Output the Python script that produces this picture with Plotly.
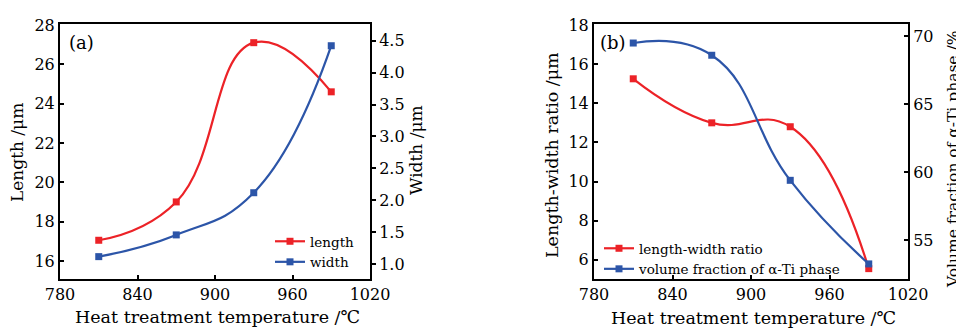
import plotly.graph_objects as go

temps = [810, 870, 930, 990]
length_um = [17.05, 19.0, 27.1, 24.6]
width_um = [1.12, 1.46, 2.12, 4.42]
ratio = [15.25, 13.0, 12.8, 5.55]
alpha_frac = [69.5, 68.6, 59.4, 53.25]

x_ticks = [780, 840, 900, 960, 1020]
RED = "#ec2227"
BLUE = "#2c55a8"
FONT = "DejaVu Serif"

fig = go.Figure()

def add(x, y, name, color, xa, ya, legend):
    fig.add_trace(go.Scatter(
        x=x, y=y, name=name, xaxis=xa, yaxis=ya, legend=legend,
        mode="lines+markers",
        line=dict(color=color, width=2.2, shape="spline", smoothing=1.3),
        marker=dict(symbol="square", size=7, color=color),
    ))

add(temps, length_um, "length", RED, "x", "y", "legend")
add(temps, width_um, "width", BLUE, "x", "y2", "legend")
add(temps, ratio, "length-width ratio", RED, "x2", "y3", "legend2")
add(temps, alpha_frac, "volume fraction of α-Ti phase", BLUE, "x2", "y4", "legend2")

OFF = 8  # page body margin
W, H = 964 - OFF, 329 - OFF
def px(v):
    return (v - OFF) / W
def py(v):
    return 1 - (v - OFF) / H

ydom = [py(279), py(24)]
axis_common = dict(showline=True, linecolor="black", linewidth=2, showgrid=False,
                   zeroline=False, automargin=False,
                   tickfont=dict(family=FONT, size=16, color="black"),
                   ticklen=4, tickwidth=1.5, tickcolor="black")

fig.update_layout(
    template="none",
    width=W, height=H,
    margin=dict(l=0, r=0, t=0, b=0, pad=0),
    paper_bgcolor="white", plot_bgcolor="white",
    font=dict(family=FONT, color="black"),
    xaxis=dict(domain=[px(60), px(370)], range=[780, 1020], tickvals=x_ticks,
               ticks="inside", mirror=True, anchor="y", **axis_common),
    yaxis=dict(domain=ydom, range=[15.08, 28.05], tickvals=[16, 18, 20, 22, 24, 26, 28],
               ticks="inside", anchor="x", **axis_common),
    yaxis2=dict(overlaying="y", side="right", anchor="x", range=[0.77, 4.76],
                tickvals=[1.0, 1.5, 2.0, 2.5, 3.0, 3.5, 4.0, 4.5], tickformat=".1f",
                ticks="outside", **axis_common),
    xaxis2=dict(domain=[px(594), px(908)], range=[780, 1020], tickvals=x_ticks,
                ticks="inside", mirror=True, anchor="y3", **axis_common),
    yaxis3=dict(domain=ydom, range=[5.02, 18.05], tickvals=[6, 8, 10, 12, 14, 16, 18],
                ticks="inside", anchor="x2", **axis_common),
    yaxis4=dict(overlaying="y3", side="right", anchor="x2", range=[52.14, 70.9],
                tickvals=[55, 60, 65, 70], ticks="inside", **axis_common),
    legend=dict(x=px(270), y=py(226), xanchor="left", yanchor="top",
                bgcolor="rgba(0,0,0,0)", font=dict(family=FONT, size=13.5, color="black"),
                itemwidth=30, tracegroupgap=0),
    legend2=dict(x=px(599), y=py(233), xanchor="left", yanchor="top",
                 bgcolor="rgba(0,0,0,0)", font=dict(family=FONT, size=13.5, color="black"),
                 itemwidth=30, tracegroupgap=0),
    showlegend=True,
)

def f(s):
    return dict(family=FONT, size=s, color="black")

anns = [
    dict(text="(a)", x=px(67), y=py(42), xanchor="left", yanchor="middle", font=f(18)),
    dict(text="(b)", x=px(598), y=py(42), xanchor="left", yanchor="middle", font=f(18)),
    dict(text="Length /μm", x=px(17), y=py(153), textangle=-90, xanchor="center", yanchor="middle", font=f(17)),
    dict(text="Width /μm", x=px(416), y=py(150), textangle=-90, xanchor="center", yanchor="middle", font=f(17)),
    dict(text="Heat treatment temperature /℃", x=px(217), y=py(317), xanchor="center", yanchor="middle", font=f(17.5)),
    dict(text="Length-width ratio /μm", x=px(552), y=py(155), textangle=-90, xanchor="center", yanchor="middle", font=f(17.5)),
    dict(text="Volume fraction of α-Ti phase /%", x=px(953), y=py(160), textangle=-90, xanchor="center", yanchor="middle", font=f(15.5)),
    dict(text="Heat treatment temperature /℃", x=px(753), y=py(318), xanchor="center", yanchor="middle", font=f(17.5)),
]
for a in anns:
    fig.add_annotation(xref="paper", yref="paper", showarrow=False, **a)

fig.write_html("out.html")
